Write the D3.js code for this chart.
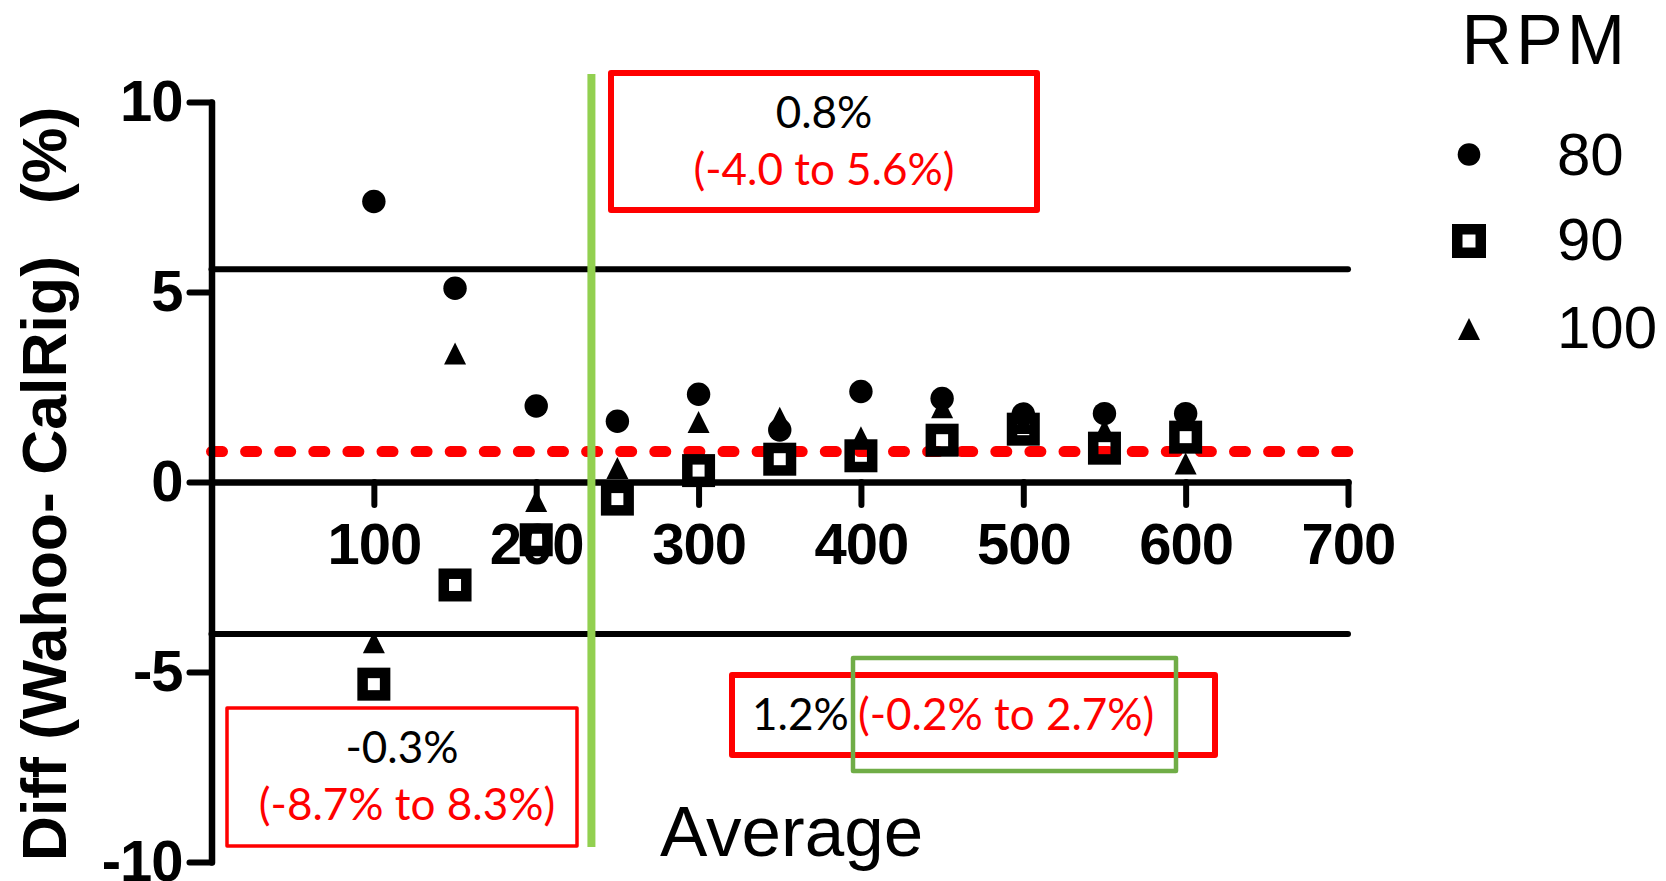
<!DOCTYPE html>
<html>
<head>
<meta charset="utf-8">
<script src="https://cdn.jsdelivr.net/npm/d3@7"></script>
<style>
  body { margin: 0; background: #fff; }
  svg text { font-family: "Liberation Sans", Arial, sans-serif; }
  .note { font-family: Lato, "Open Sans", sans-serif; font-size: 44px; }
</style>
</head>
<body>
<svg id="chart" width="1666" height="881"></svg>
<script>
// power (W) on the x axis, % difference per cadence
var loads  = [100, 150, 200, 250, 300, 350, 400, 450, 500, 550, 600];
var rpm80  = [7.38, 5.10, 2.00, 1.60, 2.31, 1.37, 2.38, 2.20, 1.79, 1.80, 1.80];
var rpm90  = [-5.32, -2.71, -1.52, -0.45, 0.30, 0.60, 0.69, 1.10, 1.39, 0.89, 1.18];
var rpm100 = [-4.22, 3.38, -0.50, 0.37, 1.58, 1.69, 1.18, 1.97, 1.55, 1.37, 0.49];

var xTicks = [100, 200, 300, 400, 500, 600, 700];
var yTicks = [-10, -5, 0, 5, 10];
var bias = 0.8;
var limits = [5.6, -4.0];
var splitLoad = 234;   // green divider between low and high loads
var legendLabels = ["80", "90", "100"];

var svg = d3.select("#chart");

var x = d3.scaleLinear().domain([0, 700]).range([211.5, 1348]);
var y = d3.scaleLinear().domain([-10, 10]).range([862, 102]);

// limits of agreement
svg.selectAll(".loa")
  .data(limits)
  .enter().append("line")
    .attr("class", "loa")
    .attr("x1", x(0)).attr("x2", x(700))
    .attr("y1", function(d) { return y(d); })
    .attr("y2", function(d) { return y(d); })
    .attr("stroke", "#000")
    .attr("stroke-width", 6)
    .attr("stroke-linecap", "round");

// mean bias
svg.append("line")
    .attr("x1", x(0)).attr("x2", x(700))
    .attr("y1", y(bias)).attr("y2", y(bias))
    .attr("stroke", "#f00")
    .attr("stroke-width", 11)
    .attr("stroke-linecap", "round")
    .attr("stroke-dasharray", "11 23.1");

// axes
var xAxis = svg.append("g")
    .attr("transform", "translate(0," + y(0) + ")")
    .call(d3.axisBottom(x).tickValues(xTicks).tickSize(23).tickSizeOuter(0)
      .tickPadding(18).tickFormat(function(d) { return String(d); }));

var yAxis = svg.append("g")
    .attr("transform", "translate(" + x(0) + ",0)")
    .call(d3.axisLeft(y).tickValues(yTicks).tickSize(22).tickSizeOuter(0)
      .tickPadding(7).tickFormat(function(d) { return String(d); }));

[xAxis, yAxis].forEach(function(ax) {
  ax.select(".domain").attr("stroke-width", 6.5).attr("stroke-linecap", "round");
  ax.selectAll(".tick line").attr("stroke-width", 6).attr("stroke-linecap", "round");
  ax.selectAll(".tick text")
    .style("font-family", '"Liberation Sans", Arial, sans-serif')
    .style("font-weight", "bold")
    .style("font-size", "58px")
    .style("letter-spacing", "-1px")
    .attr("fill", "#000");
});

svg.append("text")
    .attr("transform", "translate(66,484) rotate(-90)")
    .attr("text-anchor", "middle")
    .style("font-weight", "bold")
    .style("font-size", "62.5px")
    .style("white-space", "pre")
    .text("Diff (Wahoo- CalRig)   (%)");

svg.append("text")
    .attr("x", 660).attr("y", 856)
    .style("font-size", "71px")
    .text("Average");

// markers
var tri = "M0,-11L11,11L-11,11Z";

function pts(vals) {
  return loads.map(function(l, i) { return {x: l, y: vals[i]}; });
}

svg.selectAll(".c80")
  .data(pts(rpm80))
  .enter().append("circle")
    .attr("class", "c80")
    .attr("cx", function(d) { return x(d.x); })
    .attr("cy", function(d) { return y(d.y); })
    .attr("r", 11.7)
    .attr("fill", "#000");

svg.selectAll(".t100")
  .data(pts(rpm100))
  .enter().append("path")
    .attr("class", "t100")
    .attr("d", tri)
    .attr("transform", function(d) { return "translate(" + x(d.x) + "," + y(d.y) + ")"; })
    .attr("fill", "#000");

svg.selectAll(".s90")
  .data(pts(rpm90))
  .enter().append("rect")
    .attr("class", "s90")
    .attr("x", function(d) { return x(d.x) - 11.25; })
    .attr("y", function(d) { return y(d.y) - 11.25; })
    .attr("width", 22.5).attr("height", 22.5)
    .attr("fill", "none")
    .attr("stroke", "#000")
    .attr("stroke-width", 10.5);

// green divider
svg.append("line")
    .attr("x1", x(splitLoad)).attr("x2", x(splitLoad))
    .attr("y1", 74).attr("y2", 847)
    .attr("stroke", "#92d050")
    .attr("stroke-width", 8);

// annotation boxes
function box(x0, y0, x1, y1, col, w) {
  svg.append("rect")
      .attr("x", x0).attr("y", y0)
      .attr("width", x1 - x0).attr("height", y1 - y0)
      .attr("fill", "none")
      .attr("stroke", col)
      .attr("stroke-width", w)
      .attr("stroke-linejoin", "round");
}
function note(tx, ty, str, col, anchor) {
  svg.append("text")
      .attr("class", "note")
      .attr("x", tx).attr("y", ty)
      .attr("text-anchor", anchor || "middle")
      .attr("fill", col)
      .text(str);
}

box(611, 73, 1037, 210, "#f00", 6);
note(824, 128, "0.8%", "#000");
note(824, 185, "(-4.0 to 5.6%)", "#f00");

box(227, 708, 577, 846, "#f00", 3.5);
note(402, 763, "-0.3%", "#000");
note(407, 820, "(-8.7% to 8.3%)", "#f00");

box(732, 675, 1215, 755, "#f00", 6);
box(853, 658, 1176, 771, "#70ad47", 4.5);
note(752, 730, "1.2%", "#000", "start");
note(858, 730, "(-0.2% to 2.7%)", "#f00", "start");

// legend
svg.append("text")
    .attr("x", 1461.5).attr("y", 64)
    .style("font-size", "70px")
    .style("letter-spacing", "4px")
    .text("RPM");

var lg = svg.selectAll(".lg")
  .data(legendLabels)
  .enter().append("g")
    .attr("class", "lg")
    .attr("transform", function(d, i) { return "translate(1469," + [154.5, 241, 329][i] + ")"; });

lg.each(function(d, i) {
  var g = d3.select(this);
  if (i == 0) g.append("circle").attr("r", 11.3).attr("fill", "#000");
  if (i == 1) g.append("rect").attr("x", -11.75).attr("y", -11.75).attr("width", 23.5).attr("height", 23.5)
                .attr("fill", "none").attr("stroke", "#000").attr("stroke-width", 10.5);
  if (i == 2) g.append("path").attr("d", tri).attr("fill", "#000");
  g.append("text")
      .attr("x", 88).attr("y", [20.5, 19, 19][i])
      .style("font-size", "60px")
      .text(d);
});
</script>
</body>
</html>
